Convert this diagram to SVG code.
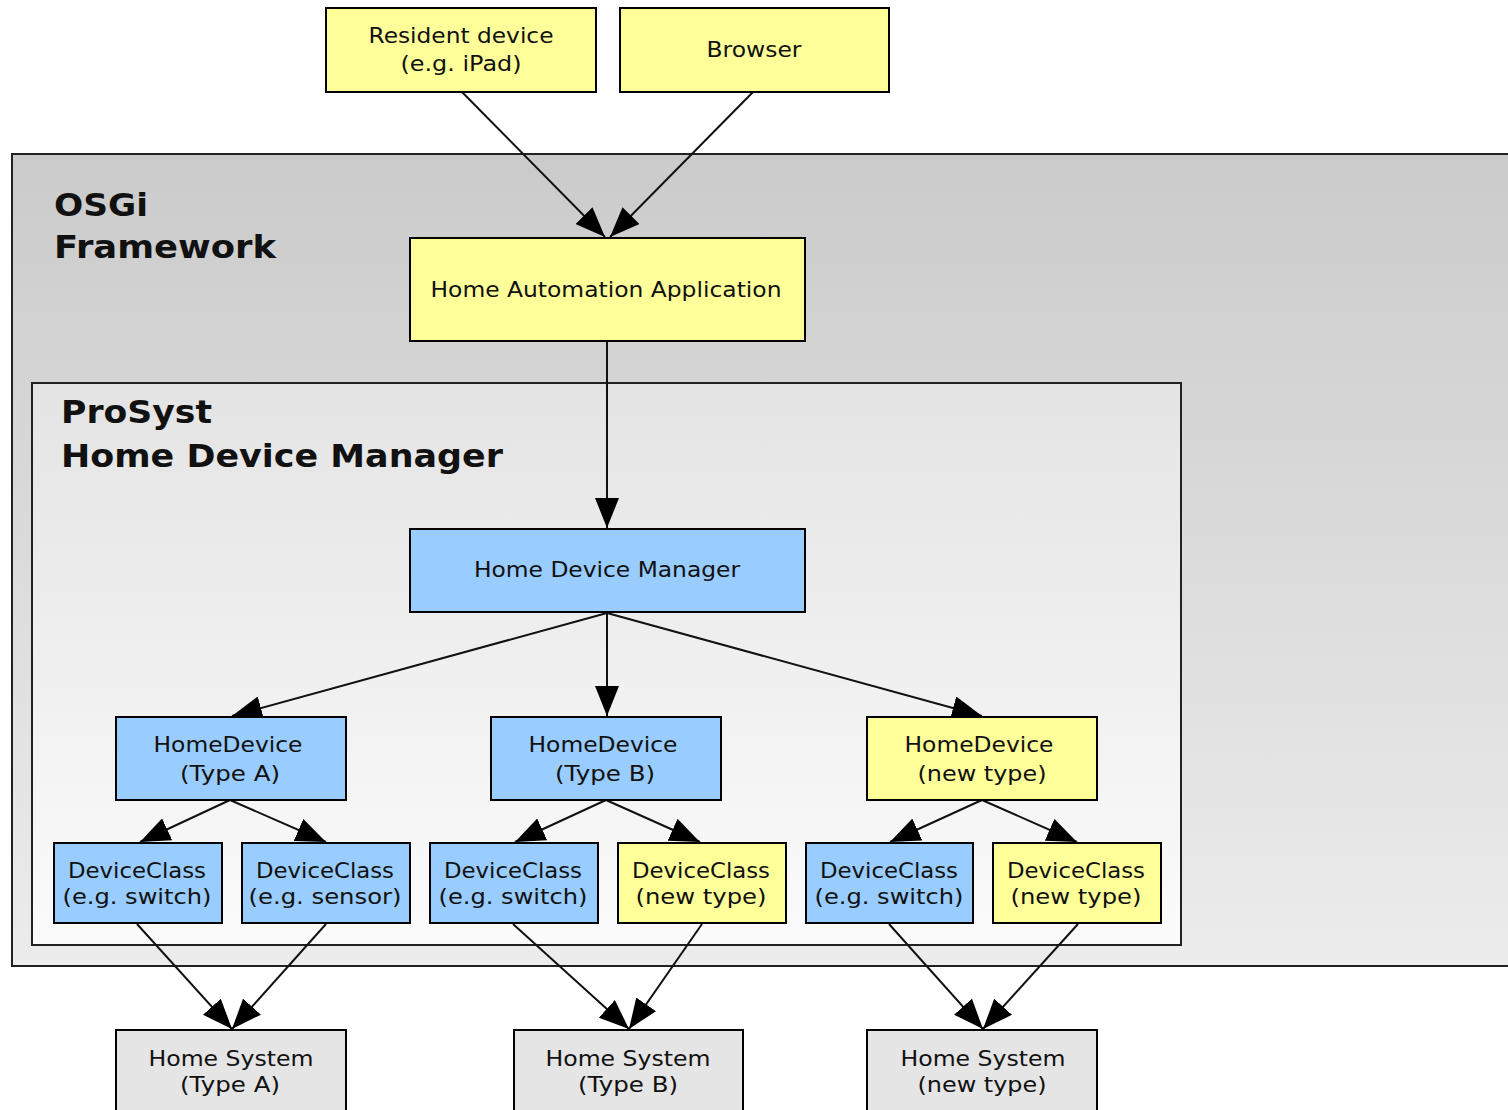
<svg xmlns="http://www.w3.org/2000/svg" width="1508" height="1110" viewBox="0 0 1508 1110">
<defs>
<linearGradient id="gOuter" x1="0" y1="0" x2="0" y2="1">
<stop offset="0" stop-color="#cbcbcb"/>
<stop offset="1" stop-color="#ececec"/>
</linearGradient>
<linearGradient id="gInner" x1="0" y1="0" x2="0" y2="1">
<stop offset="0" stop-color="#e4e4e4"/>
<stop offset="1" stop-color="#fbfbfb"/>
</linearGradient>
<marker id="arr" viewBox="0 0 30 24" refX="30" refY="12" markerWidth="30" markerHeight="24" markerUnits="userSpaceOnUse" orient="auto">
<path d="M0,0 L30,12 L0,24 z" fill="#000"/>
</marker>
<style>
.cl{stroke:#222;stroke-width:2}
.n rect{stroke:#000;stroke-width:2}
.y rect{fill:#ffff99}
.b rect{fill:#99ccff}
.g rect{fill:#e5e5e5}
.n text{font-family:"DejaVu Sans",Verdana,sans-serif;font-size:21px;fill:#111;text-anchor:middle}
.t{font-family:"DejaVu Sans","Liberation Sans",sans-serif;font-weight:bold;font-size:32px;fill:#111}
#edges path{fill:none;stroke:#111;stroke-width:2;marker-end:url(#arr)}
</style>
</defs>
<rect x="0" y="0" width="1508" height="1110" fill="#fff"/>
<g id="osgi">
<rect class="cl" x="12" y="154" width="1510" height="812" fill="url(#gOuter)"/>
<text class="t" x="54" y="216" textLength="94" lengthAdjust="spacingAndGlyphs">OSGi</text>
<text class="t" x="54" y="258" textLength="222" lengthAdjust="spacingAndGlyphs">Framework</text>
</g>
<g id="prosyst">
<rect class="cl" x="32" y="383" width="1149" height="562" fill="url(#gInner)"/>
<text class="t" x="61" y="423" textLength="151" lengthAdjust="spacingAndGlyphs">ProSyst</text>
<text class="t" x="61" y="467" textLength="442" lengthAdjust="spacingAndGlyphs">Home Device Manager</text>
</g>
<g id="edges">
<path d="M462,92 L605,237"/>
<path d="M753,92 L610,237"/>
<path d="M607,341 L607,528"/>
<path d="M607,613 L232,716"/>
<path d="M607,613 L607,716"/>
<path d="M607,613 L982,716"/>
<path d="M230,800 L140,842"/>
<path d="M230,800 L326,842"/>
<path d="M606,800 L515,842"/>
<path d="M606,800 L700,842"/>
<path d="M982,800 L890,842"/>
<path d="M982,800 L1077,842"/>
<path d="M137,924 L232,1029"/>
<path d="M326,924 L232,1029"/>
<path d="M513,924 L629,1029"/>
<path d="M702,924 L629,1029"/>
<path d="M889,924 L983,1029"/>
<path d="M1078,924 L983,1029"/>
</g>
<g id="resident" class="n y"><rect x="326" y="8" width="270" height="84"/><text x="461" y="43" textLength="185" lengthAdjust="spacingAndGlyphs">Resident device</text><text x="461" y="71" textLength="121" lengthAdjust="spacingAndGlyphs">(e.g. iPad)</text></g>
<g id="browser" class="n y"><rect x="620" y="8" width="269" height="84"/><text x="754" y="57" textLength="95" lengthAdjust="spacingAndGlyphs">Browser</text></g>
<g id="haa" class="n y"><rect x="410" y="238" width="395" height="103"/><text x="606" y="297" textLength="351" lengthAdjust="spacingAndGlyphs">Home Automation Application</text></g>
<g id="hdm" class="n b"><rect x="410" y="529" width="395" height="83"/><text x="607" y="577" textLength="266" lengthAdjust="spacingAndGlyphs">Home Device Manager</text></g>
<g id="hdA" class="n b"><rect x="116" y="717" width="230" height="83"/><text x="228" y="752" textLength="149" lengthAdjust="spacingAndGlyphs">HomeDevice</text><text x="230" y="781" textLength="100" lengthAdjust="spacingAndGlyphs">(Type A)</text></g>
<g id="hdB" class="n b"><rect x="491" y="717" width="230" height="83"/><text x="603" y="752" textLength="149" lengthAdjust="spacingAndGlyphs">HomeDevice</text><text x="605" y="781" textLength="100" lengthAdjust="spacingAndGlyphs">(Type B)</text></g>
<g id="hdN" class="n y"><rect x="867" y="717" width="230" height="83"/><text x="979" y="752" textLength="149" lengthAdjust="spacingAndGlyphs">HomeDevice</text><text x="982" y="781" textLength="129" lengthAdjust="spacingAndGlyphs">(new type)</text></g>
<g id="dcA1" class="n b"><rect x="54" y="843" width="168" height="80"/><text x="137" y="878" textLength="138" lengthAdjust="spacingAndGlyphs">DeviceClass</text><text x="137" y="904" textLength="149" lengthAdjust="spacingAndGlyphs">(e.g. switch)</text></g>
<g id="dcA2" class="n b"><rect x="242" y="843" width="168" height="80"/><text x="325" y="878" textLength="138" lengthAdjust="spacingAndGlyphs">DeviceClass</text><text x="325" y="904" textLength="153" lengthAdjust="spacingAndGlyphs">(e.g. sensor)</text></g>
<g id="dcB1" class="n b"><rect x="430" y="843" width="168" height="80"/><text x="513" y="878" textLength="138" lengthAdjust="spacingAndGlyphs">DeviceClass</text><text x="513" y="904" textLength="149" lengthAdjust="spacingAndGlyphs">(e.g. switch)</text></g>
<g id="dcB2" class="n y"><rect x="618" y="843" width="168" height="80"/><text x="701" y="878" textLength="138" lengthAdjust="spacingAndGlyphs">DeviceClass</text><text x="701" y="904" textLength="131" lengthAdjust="spacingAndGlyphs">(new type)</text></g>
<g id="dcN1" class="n b"><rect x="806" y="843" width="167" height="80"/><text x="889" y="878" textLength="138" lengthAdjust="spacingAndGlyphs">DeviceClass</text><text x="889" y="904" textLength="149" lengthAdjust="spacingAndGlyphs">(e.g. switch)</text></g>
<g id="dcN2" class="n y"><rect x="993" y="843" width="168" height="80"/><text x="1076" y="878" textLength="138" lengthAdjust="spacingAndGlyphs">DeviceClass</text><text x="1076" y="904" textLength="131" lengthAdjust="spacingAndGlyphs">(new type)</text></g>
<g id="hsA" class="n g"><rect x="116" y="1030" width="230" height="90"/><text x="231" y="1066" textLength="165" lengthAdjust="spacingAndGlyphs">Home System</text><text x="230" y="1092" textLength="100" lengthAdjust="spacingAndGlyphs">(Type A)</text></g>
<g id="hsB" class="n g"><rect x="514" y="1030" width="229" height="90"/><text x="628" y="1066" textLength="165" lengthAdjust="spacingAndGlyphs">Home System</text><text x="628" y="1092" textLength="100" lengthAdjust="spacingAndGlyphs">(Type B)</text></g>
<g id="hsN" class="n g"><rect x="867" y="1030" width="230" height="90"/><text x="983" y="1066" textLength="165" lengthAdjust="spacingAndGlyphs">Home System</text><text x="982" y="1092" textLength="129" lengthAdjust="spacingAndGlyphs">(new type)</text></g>
</svg>
